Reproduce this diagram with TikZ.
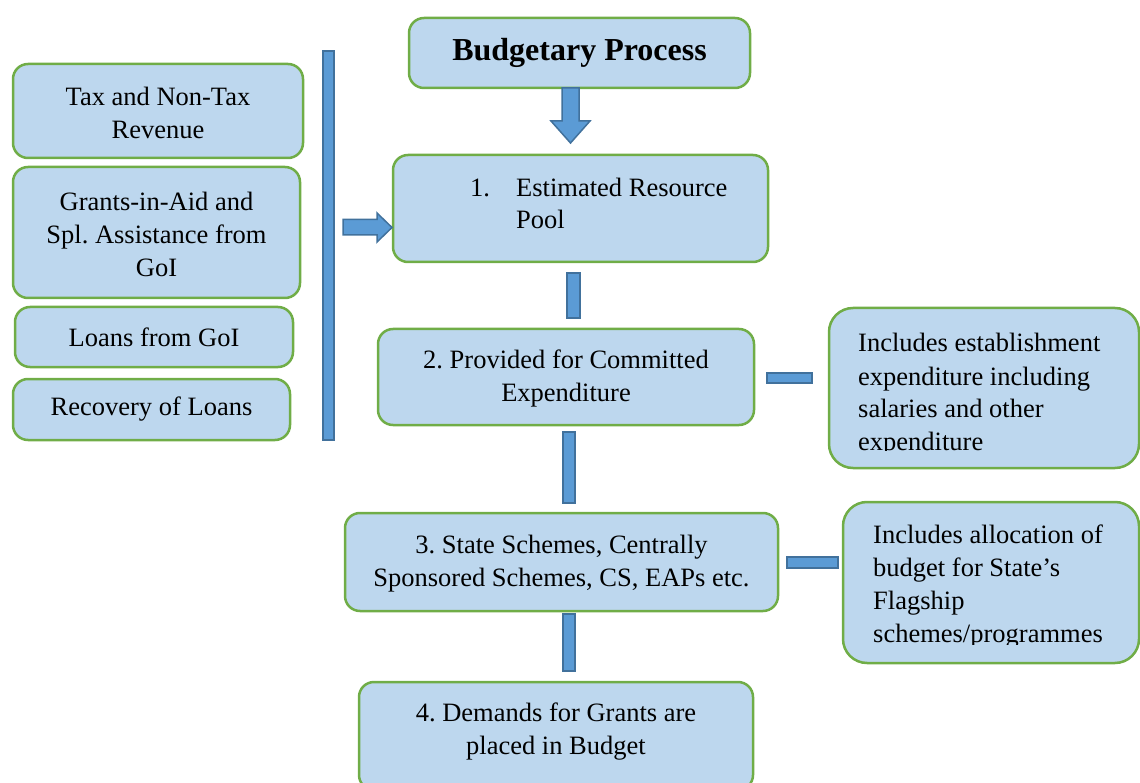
\documentclass[tikz,border=0pt]{standalone}
\usepackage{fontspec}
\setmainfont{Liberation Serif}
\definecolor{boxfill}{HTML}{BDD7EE}
\definecolor{boxline}{HTML}{70AD47}
\definecolor{connfill}{HTML}{5B9BD5}
\definecolor{connline}{HTML}{41719C}
\newcommand\bodyfont{\fontsize{26.5}{33}\selectfont\frenchspacing}
\newcommand\titlefont{\fontsize{32}{38}\selectfont\bfseries}
\begin{document}
\begin{tikzpicture}[x=1pt,y=-1pt,
  box/.style={draw=boxline, fill=boxfill, line width=2.5pt, rounded corners=15pt,
              inner sep=0pt, align=center, font=\bodyfont},
  sidebox/.style={box, rounded corners=24pt},
  conn/.style={draw=connline, fill=connfill, line width=1.5pt},
  txt/.style={inner sep=0pt, font=\bodyfont, anchor=base west},
  ctxt/.style={inner sep=0pt, font=\bodyfont, align=center}]
\useasboundingbox (0,0) rectangle (1140,783);
\clip (0,0) rectangle (1140,783);

% title
\node[box, minimum width=341pt, minimum height=70pt, font=\titlefont] (title) at (579.5,53) {Budgetary Process};

% left sources
\node[box, minimum width=290pt, minimum height=94pt] (tax) at (158,111) {};
\node[ctxt] (taxt) at (158,113) {Tax and Non-Tax\\Revenue};
\node[box, minimum width=287pt, minimum height=131pt] (gia) at (156.5,232.5) {};
\node[ctxt] (giat) at (156.5,234.5) {Grants-in-Aid and\\Spl. Assistance from\\GoI};
\node[box, minimum width=278pt, minimum height=60pt] (loans) at (154,337) {Loans from GoI};
\node[box, minimum width=277pt, minimum height=61pt] (recov) at (151.5,409.5) {Recovery of Loans};

% vertical bar
\draw[conn] (323,51) rectangle (334,440);

% step 1
\node[box, minimum width=375pt, minimum height=107pt] (b1) at (580.5,208.5) {};
\node[txt] (b1n) at (470,197) {1.};
\node[txt] (b1a) at (516,197) {Estimated Resource};
\node[txt] (b1b) at (516,229) {Pool};

% step 2
\node[box, minimum width=376pt, minimum height=96pt] (b2) at (566,377) {};
\node[ctxt] (b2t) at (566,378.5) {2. Provided for Committed\\Expenditure};

% step 3
\node[box, minimum width=433pt, minimum height=98pt] (b3) at (561.5,562) {};
\node[ctxt] (b3t) at (561.5,563.5) {3. State Schemes, Centrally\\Sponsored Schemes, CS, EAPs etc.};

% step 4
\node[box, minimum width=394pt, minimum height=108pt] (b4) at (556,736) {};
\node[ctxt] (b4t) at (556,732) {4. Demands for Grants are\\placed in Budget};

% side notes
\node[sidebox, minimum width=310pt, minimum height=160pt] (n1) at (984,388) {};
\begin{scope}
\clip (829,308) rectangle (1140,450);
\node[txt] (n1a) at (858,352) {Includes establishment};
\node[txt] (n1b) at (858,385) {expenditure including};
\node[txt] (n1c) at (858,417.5) {salaries and other};
\node[txt] (n1d) at (858,450) {expenditure};
\end{scope}

\node[sidebox, minimum width=296pt, minimum height=161pt] (n2) at (991,582.5) {};
\begin{scope}
\clip (843,502) rectangle (1140,644);
\node[txt] (n2a) at (873,543) {Includes allocation of};
\node[txt] (n2b) at (873,576) {budget for State’s};
\node[txt] (n2c) at (873,609) {Flagship};
\node[txt] (n2d) at (873,642) {schemes/programmes};
\end{scope}

% block arrows and connectors
\draw[conn] (562,88) -- (579,88) -- (579,121) -- (590,121) -- (570.5,143) -- (551,121) -- (562,121) -- cycle;
\draw[conn] (343,219.5) -- (377,219.5) -- (377,213) -- (392,227.5) -- (377,242) -- (377,235) -- (343,235) -- cycle;
\draw[conn] (567,273) rectangle (580,318);
\draw[conn] (767,373) rectangle (812,383);
\draw[conn] (563,432) rectangle (575,503);
\draw[conn] (787,557) rectangle (838,568);
\draw[conn] (563,614) rectangle (575,671);
\end{tikzpicture}
\end{document}
